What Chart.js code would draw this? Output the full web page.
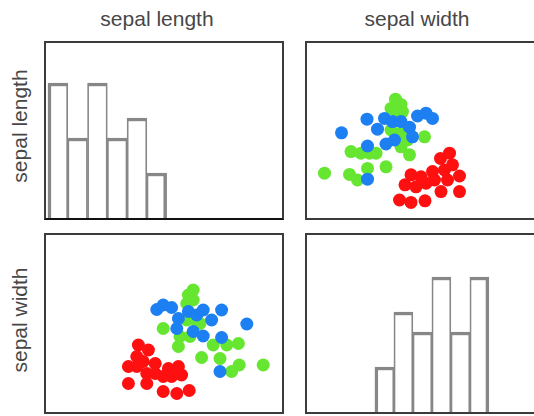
<!DOCTYPE html>
<html>
<head>
<meta charset="utf-8">
<script src="https://cdn.jsdelivr.net/npm/chart.js@4.4.1/dist/chart.umd.min.js"></script>
<style>
  html, body { margin: 0; padding: 0; background: #fff; overflow: hidden; }
  body { width: 534px; height: 416px; position: relative; }
  .panel { position: absolute; border: 2px solid #3c3c3c; background: #fff; }
  .panel canvas { display: block; }
  .label {
    position: absolute; width: 200px; text-align: center;
    font: 21px "Liberation Sans", Arial, sans-serif; color: #474747;
    line-height: 24px; white-space: nowrap;
  }
  .vlabel { transform: rotate(-90deg); transform-origin: 50% 50%; }
</style>
</head>
<body>
<div class="label" style="left:57px; top:7px;">sepal length</div>
<div class="label" style="left:317px; top:7px;">sepal width</div>
<div class="label vlabel" style="left:-80px; top:114px;">sepal length</div>
<div class="label vlabel" style="left:-80px; top:308px;">sepal width</div>

<div class="panel" style="left:44px; top:41px; border-bottom-color:#111;"><canvas id="c11" width="236" height="175"></canvas></div>
<div class="panel" style="left:305px; top:41px;"><canvas id="c12" width="236" height="175"></canvas></div>
<div class="panel" style="left:44px; top:233px;"><canvas id="c21" width="236" height="177"></canvas></div>
<div class="panel" style="left:305px; top:233px;"><canvas id="c22" width="236" height="177"></canvas></div>

<script>
// Histogram bins (bin centres, cm) and counts
const lengthBinCenters = [4.6, 5.2, 5.8, 6.4, 7.0, 7.6];
const lengthCounts     = [27, 16, 27, 16, 20, 9];
const widthBinCenters  = [2.2, 2.6, 3.0, 3.4, 3.8, 4.2];
const widthCounts      = [9, 20, 16, 27, 16, 27];

// Scatter: x = sepal width, y = sepal length
const setosaW_a     = [3.85,3.67,3.91,3.75,3.51,4.05,3.08,3.28,2.96,3.18,3.38,3.68,4.05,2.85,3.08,3.36,3.81,3.55];
const setosaL_a     = [5.62,5.49,5.33,5.20,5.16,5.05,5.08,5.03,4.83,4.78,4.87,4.66,4.66,4.45,4.39,4.43,4.95,4.95];
const versicolorW_a = [1.69,2.20,2.41,2.55,2.71,2.88,3.05,3.11,3.21,3.38,3.51,2.21,2.58,2.75,2.21];
const versicolorL_a = [6.13,6.47,6.22,6.49,6.41,6.41,6.27,6.03,6.55,6.62,6.49,5.80,5.85,5.95,4.97];
const virginicaW_a  = [2.77,2.88,2.68,2.91,2.81,2.68,2.88,3.01,2.88,3.05,3.35,1.88,2.08,2.25,2.38,2.58,2.21,1.35,1.85,2.01];
const virginicaL_a  = [6.97,6.84,6.74,6.66,6.62,6.20,6.12,5.95,5.78,5.58,6.03,5.66,5.62,5.62,5.62,5.28,5.24,5.12,5.09,4.95];

// Scatter: x = sepal length, y = sepal width
const setosaL_b     = [6.31,6.56,6.27,6.43,6.73,6.06,7.06,7.31,6.52,6.93,7.14,7.39,6.06,6.52,6.93,7.27,7.58,6.27,6.73];
const setosaW_b     = [2.84,2.74,2.61,2.51,2.47,2.41,2.37,2.41,2.27,2.21,2.21,2.24,2.07,2.07,1.91,1.87,1.93,2.41,2.27];
const versicolorL_b = [6.77,6.93,7.14,7.56,7.77,7.93,8.39,7.31,8.14,7.27,7.68,7.93,8.39,9.02,8.35];
const versicolorW_b = [3.55,3.64,3.59,3.51,3.44,3.54,3.54,3.37,3.34,3.17,3.11,3.02,2.99,3.26,2.31];
const virginicaL_b  = [7.68,7.56,7.68,7.52,6.93,7.35,7.31,7.60,7.85,8.18,8.52,8.81,8.35,7.89,8.83,8.64,9.43,7.52,7.77];
const virginicaW_b  = [3.94,3.84,3.74,3.67,3.17,3.01,2.81,3.01,3.27,2.84,2.84,2.87,2.57,2.59,2.44,2.31,2.44,3.34,3.31];

const COLORS = { setosa: '#ff1010', versicolor: '#1c7ff2', virginica: '#66e630' };
const HIST_STROKE = '#878787';

const zip = (xs, ys) => xs.map((x, i) => ({ x, y: ys[i] }));

const baseOptions = (xr, yr) => ({
  responsive: false,
  animation: false,
  devicePixelRatio: 1,
  layout: { padding: 0, autoPadding: false },
  plugins: { legend: { display: false }, tooltip: { enabled: false } },
  scales: {
    x: { type: 'linear', display: false, offset: false, min: xr[0], max: xr[1], grid: { display: false, offset: false } },
    y: { type: 'linear', display: false, min: yr[0], max: yr[1], grid: { display: false } }
  }
});

function histogram(id, centers, counts, xr, yr) {
  const n = counts.length;
  new Chart(document.getElementById(id), {
    type: 'bar',
    data: {
      datasets: [{
        data: zip(centers, counts),
        backgroundColor: '#ffffff',
        borderColor: HIST_STROKE,
        // shared edges between neighbouring bars add up to the outer width
        borderWidth: (ctx) => ({
          top: 3.5,
          left: ctx.dataIndex === 0 ? 3.5 : 1.75,
          right: ctx.dataIndex === n - 1 ? 3.5 : 1.75,
          bottom: 0
        }),
        borderSkipped: 'start',
        barPercentage: 1,
        categoryPercentage: 1
      }]
    },
    options: baseOptions(xr, yr)
  });
}

function scatter(id, groups, xr, yr) {
  new Chart(document.getElementById(id), {
    type: 'scatter',
    data: {
      datasets: groups.map(g => ({
        data: zip(g.x, g.y),
        backgroundColor: g.color,
        borderWidth: 0,
        pointRadius: 6.5,
        pointHoverRadius: 6.5
      }))
    },
    options: baseOptions(xr, yr)
  });
}

histogram('c11', lengthBinCenters, lengthCounts, [4.24, 11.4], [0, 35]);
histogram('c22', widthBinCenters, widthCounts, [0.57, 5.54], [0, 35.4]);

// first dataset is drawn on top
scatter('c12', [
  { x: setosaW_a, y: setosaL_a, color: COLORS.setosa },
  { x: versicolorW_a, y: versicolorL_a, color: COLORS.versicolor },
  { x: virginicaW_a, y: virginicaL_a, color: COLORS.virginica }
], [1.0, 5.72], [4.0, 8.375]);

scatter('c21', [
  { x: setosaL_b, y: setosaW_b, color: COLORS.setosa },
  { x: versicolorL_b, y: versicolorW_b, color: COLORS.versicolor },
  { x: virginicaL_b, y: virginicaW_b, color: COLORS.virginica }
], [4.0, 9.9], [1.5, 5.04]);
</script>
</body>
</html>
